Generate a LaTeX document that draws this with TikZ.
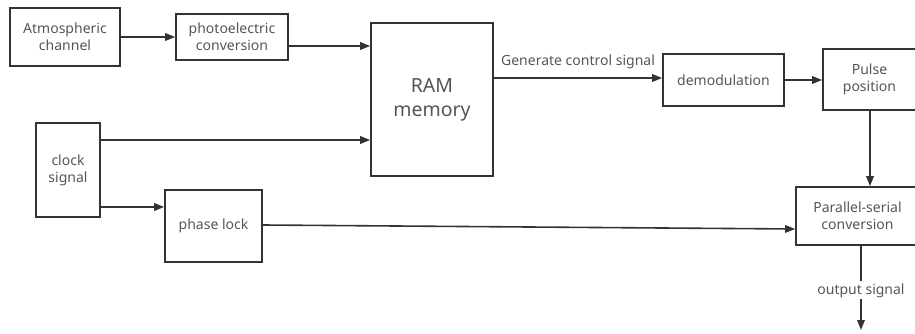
\documentclass[tikz,border=0pt]{standalone}
\usepackage{fontspec}
\setmainfont{Noto Sans}
\usetikzlibrary{arrows.meta}
\definecolor{linec}{HTML}{333333}
\definecolor{textc}{HTML}{555555}
\begin{document}
\begin{tikzpicture}[x=1pt,y=-1pt,
  box/.style={draw=linec,line width=1.6pt,rectangle,inner sep=2pt,align=center,
    text=textc,font=\fontsize{14}{17}\selectfont},
  arr/.style={draw=linec,line width=1.6pt,-{Triangle[length=10pt,width=7.5pt]}},
  lbl/.style={text=textc,font=\fontsize{14}{17}\selectfont,inner sep=1pt}]
\useasboundingbox (0,0) rectangle (915,334);
\node[box,minimum width=110pt,minimum height=58pt] (atm) at (65,37) {Atmospheric\\channel};
\node[box,minimum width=112pt,minimum height=46pt] (photo) at (232,37) {photoelectric\\conversion};
\node[box,minimum width=122pt,minimum height=153pt,font=\fontsize{19.5}{24}\selectfont] (ram) at (432,99.5) {RAM\\memory};
\node[box,minimum width=121pt,minimum height=52pt] (demod) at (723.5,80) {demodulation};
\node[box,minimum width=93pt,minimum height=61pt] (pulse) at (869.5,79.5) {Pulse\\position};
\node[box,minimum width=64pt,minimum height=94pt] (clock) at (68,170) {clock\\signal};
\node[box,minimum width=97pt,minimum height=72pt] (phase) at (213.5,226) {phase lock};
\node[box,minimum width=123pt,minimum height=58pt,text width=119pt] (ps) at (857.5,216) {Parallel-serial\\conversion};
\coordinate (out) at (861,330);

\draw[arr] (atm.east) -- (photo.west);
\draw[arr] (photo.east |- 0,46) -- (ram.west |- 0,46);
\draw[arr] (ram.east |- 0,78) -- (demod.west |- 0,78);
\node[lbl] (gcs) at (578,62) {Generate control signal};
\draw[arr] (demod.east) -- (pulse.west |- demod.east);
\draw[arr] (clock.east |- 0,140) -- (ram.west |- 0,140);
\draw[arr] (clock.east |- 0,207) -- (phase.west |- 0,207);
\draw[arr] (phase.east |- 0,225) -- (ps.west |- 0,229);
\draw[arr] (pulse.south -| 870,0) -- (ps.north -| 870,0);
\draw[arr] (ps.south -| 861,0) -- node[lbl,pos=0.53,fill=white,inner sep=2pt] {output signal} (out);
\end{tikzpicture}
\end{document}
